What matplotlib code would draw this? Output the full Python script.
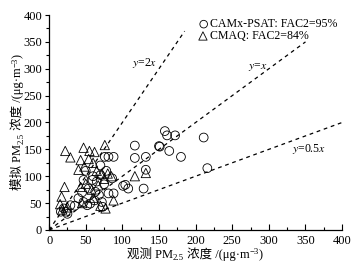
import matplotlib
matplotlib.use("Agg")
import matplotlib.pyplot as plt
from matplotlib.ticker import MultipleLocator
from matplotlib.transforms import IdentityTransform

plt.rcParams['font.family'] = ['Liberation Serif', 'Noto Sans CJK SC']
plt.rcParams['mathtext.fontset'] = 'stix'

# CAMx-PSAT (circles): observed, simulated
camx_obs = [117, 117, 132, 132, 150, 158, 161, 172, 151, 164, 180, 211, 216,
            101, 108, 129, 88, 86, 76, 88, 81, 70, 70, 50, 47, 59, 65, 54,
            63, 68, 40, 47, 52, 56, 72, 73, 29, 20, 23, 16, 81, 60, 75, 62,
            35, 25, 78, 45, 104]
camx_sim = [157, 134, 136, 112, 156, 184, 176, 176, 155, 147, 136, 172, 115,
            82, 77, 77, 68, 96, 136, 136, 136, 120, 102, 110, 93, 93, 90, 77,
            71, 65, 59, 52, 46, 49, 52, 43, 46, 40, 34, 34, 68, 100, 85, 55,
            45, 30, 110, 70, 84]

# CMAQ (triangles): observed, simulated
cmaq_obs = [22, 29, 43, 47, 55, 62, 76, 54, 60, 40, 48, 65, 72, 21, 17, 15,
            18, 43, 50, 58, 67, 75, 80, 88, 77, 117, 132, 45, 70, 85, 25, 60]
cmaq_sim = [147, 135, 130, 153, 147, 145, 158, 132, 125, 112, 118, 110, 105,
            80, 62, 48, 38, 80, 86, 75, 83, 95, 105, 55, 40, 100, 106, 50, 45,
            100, 42, 60]

ref_slopes = [2, 1, 0.5]
ref_xmax = [185, 350, 400]

fig = plt.figure(figsize=(3.56, 2.68), dpi=100)
ax = fig.add_axes([0.138, 0.142, 0.823, 0.802])

for k, xm in zip(ref_slopes, ref_xmax):
    ax.plot([0, xm], [0, k * xm], color='black', lw=0.9, ls=(0, (3, 3)))

ax.scatter(camx_obs, camx_sim, s=40, marker='o', facecolors='none',
           edgecolors='black', linewidths=0.6, zorder=3)
ax.scatter(cmaq_obs, cmaq_sim, s=45, marker='^', facecolors='none',
           edgecolors='black', linewidths=0.6, zorder=3)

ax.text(113, 305, '$y$=2$x$', fontsize=8.5)
ax.text(272, 300, '$y$=$x$', fontsize=8.5)
ax.text(332, 145, '$y$=0.5$x$', fontsize=8.5)

# legend
ax.scatter([211], [383], s=30, marker='o', facecolors='none',
           edgecolors='black', linewidths=0.6, clip_on=False)
ax.scatter([210], [361], s=36, marker='^', facecolors='none',
           edgecolors='black', linewidths=0.6, clip_on=False)
ax.text(219, 383, 'CAMx-PSAT: FAC2=95%', fontsize=8.6, va='center')
ax.text(219, 361, 'CMAQ: FAC2=84%', fontsize=8.6, va='center')

ax.set_xlim(0, 400)
ax.set_ylim(0, 400)
ax.xaxis.set_major_locator(MultipleLocator(50))
ax.xaxis.set_minor_locator(MultipleLocator(25))
ax.yaxis.set_major_locator(MultipleLocator(50))
ax.yaxis.set_minor_locator(MultipleLocator(25))
ax.tick_params(axis='x', which='major', direction='in', length=4, width=0.8, labelsize=9, pad=4)
ax.tick_params(axis='x', which='minor', direction='in', length=2, width=0.8)
ax.tick_params(axis='y', which='major', direction='out', length=3, width=0.8, labelsize=9, pad=2)
ax.tick_params(axis='y', which='minor', direction='out', length=2, width=0.8)
for s in ['top', 'right']:
    ax.spines[s].set_visible(False)
for s in ['left', 'bottom']:
    ax.spines[s].set_linewidth(0.9)


# axis labels with sub/superscripts, built piece by piece (mathtext has no CJK fallback)
def rich_label(prefix, cx, cy, vertical=False, fs=9):
    pieces = [(prefix + ' PM', fs, 0), ('2.5', fs * 0.7, -2.2),
              (' 浓度 /(μg·m', fs, 0), ('−3', fs * 0.7, 3.5), (')', fs, 0)]
    r = fig.canvas.get_renderer()
    rot = 90 if vertical else 0
    texts, widths = [], []
    for s, size, dy in pieces:
        t = fig.text(0, 0, s, fontsize=size, transform=IdentityTransform(),
                     rotation=rot, rotation_mode='anchor', ha='left', va='baseline')
        bb = t.get_window_extent(r)
        texts.append((t, dy))
        widths.append(bb.height if vertical else bb.width)
    pos = -sum(widths) / 2
    for (t, dy), w in zip(texts, widths):
        if vertical:
            t.set_position((cx - dy, cy + pos))
        else:
            t.set_position((cx + pos, cy + dy))
        pos += w


rich_label('观测', 195, 10)
rich_label('模拟', 21, 146, vertical=True)

fig.savefig('out.png', dpi=100)
